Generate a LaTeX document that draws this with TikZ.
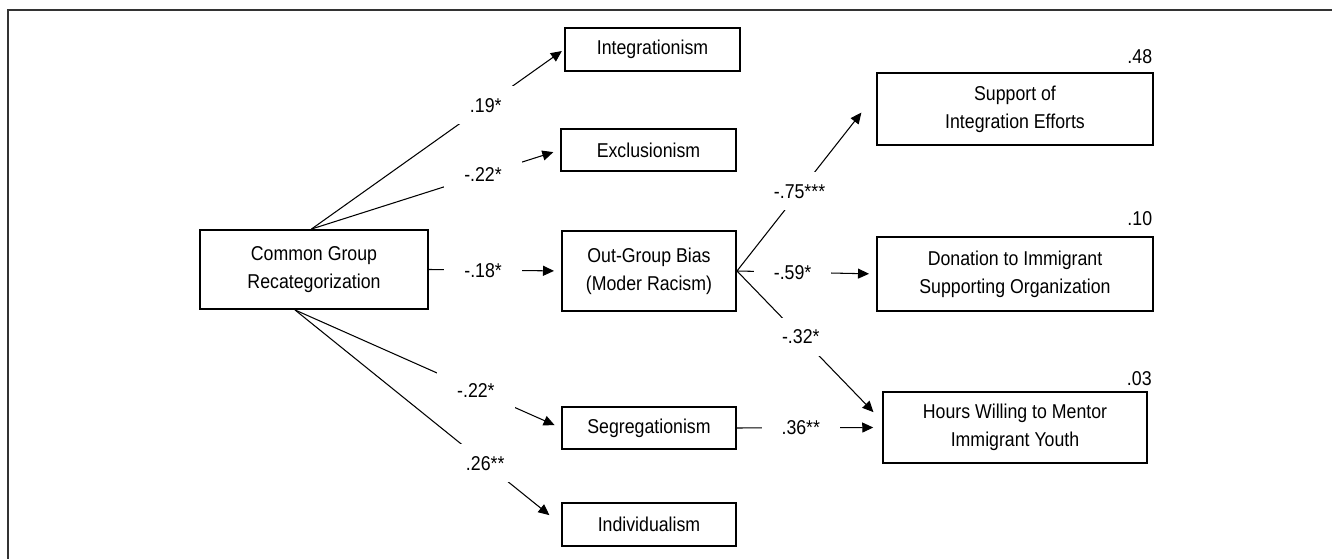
\documentclass[tikz,border=0pt]{standalone}
\usepackage{fontspec}
\setmainfont[FakeStretch=0.885]{Liberation Sans}
\usetikzlibrary{arrows.meta}

\begin{document}
\begin{tikzpicture}[
    font=\fontsize{11.4}{15.8}\selectfont,
    var/.style={draw, line width=1.1pt, align=center, inner sep=0pt},
    link/.style={line width=0.6pt, -{Triangle[length=0.22cm,width=0.2cm]}, shorten >=4pt},
    coef/.style={fill=white, inner xsep=0.4cm, inner ysep=0.24cm},
    rsq/.style={anchor=south east, inner sep=0pt}]
    \useasboundingbox (0,0) rectangle (26.64,11.18);
    \draw[line width=0.6pt, black!80] (0.16,0) -- (0.16,10.98) -- (26.64,10.98);

    \node[var, minimum width=4.56cm, minimum height=1.58cm] (common) at (6.28,5.79) {Common Group\\Recategorization};
    \node[var, minimum width=3.5cm, minimum height=0.86cm] (integ) at (13.05,10.19) {Integrationism};
    \node[var, minimum width=3.5cm, minimum height=0.84cm] (exclu) at (12.97,8.18) {Exclusionism};
    \node[var, minimum width=3.48cm, minimum height=1.6cm] (outgroup) at (12.98,5.76) {Out-Group Bias\\(Moder Racism)};
    \node[var, minimum width=3.48cm, minimum height=0.84cm] (segreg) at (12.98,2.62) {Segregationism};
    \node[var, minimum width=3.48cm, minimum height=0.86cm] (indiv) at (12.98,0.69) {Individualism};
    \node[var, minimum width=5.52cm, minimum height=1.44cm] (support) at (20.30,9.0) {Support of\\Integration Efforts};
    \node[var, minimum width=5.52cm, minimum height=1.48cm] (donation) at (20.30,5.70) {Donation to Immigrant\\Supporting Organization};
    \node[var, minimum width=5.28cm, minimum height=1.42cm] (hours) at (20.30,2.63) {Hours Willing to Mentor\\Immigrant Youth};

    \node[rsq] (r2support) at ([xshift=-0.03cm,yshift=0.16cm]support.north east) {.48};
    \node[rsq] (r2donation) at ([xshift=-0.03cm,yshift=0.2cm]donation.north east) {.10};
    \node[rsq] (r2hours) at ([xshift=0.08cm,yshift=0.1cm]hours.north east) {.03};

    \draw[link, shorten >=1.5pt] ([xshift=-0.05cm]common.north) -- node[coef, pos=0.69] (cInteg) {.19*} (integ.west);
    \draw[link] ([xshift=-0.05cm]common.north) -- node[coef, pos=0.69] (cExclu) {-.22*} (exclu.west);
    \draw[link] (common.east) -- node[coef, pos=0.41] (cBias) {-.18*} (outgroup.west);
    \draw[link] ([xshift=-0.38cm]common.south) -- node[coef, pos=0.68] (cSegreg) {-.22*} (segreg.west);
    \draw[link, shorten >=8.5pt] ([xshift=-0.38cm]common.south) -- node[coef, pos=0.715] (cIndiv) {.26**} (indiv.west);
    \draw[link, shorten >=13.5pt] (outgroup.east) -- node[coef, pos=0.45] (cSupport) {-.75***} ([yshift=0.3cm]support.west);
    \draw[link] (outgroup.east) -- node[coef, pos=0.4] (cDonation) {-.59*} (donation.west);
    \draw[link, shorten >=7pt] (outgroup.east) -- node[coef, pos=0.44] (cHours) {-.32*} ([yshift=0.13cm]hours.west);
    \draw[link, shorten >=5pt] (segreg.east) -- node[coef, pos=0.44] (cMentor) {.36**} (hours.west);
\end{tikzpicture}
\end{document}
